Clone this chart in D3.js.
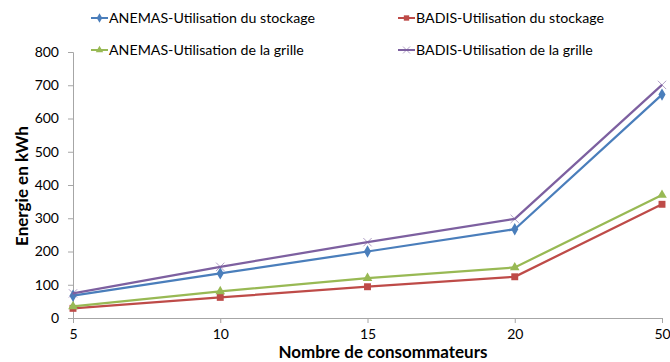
<!DOCTYPE html>
<html>
<head>
<meta charset="utf-8">
<script src="https://cdn.jsdelivr.net/npm/d3@7"></script>
<style>
  html, body { margin: 0; padding: 0; background: #fff; }
  svg { display: block; font-family: Lato, "Open Sans", sans-serif; }
</style>
</head>
<body>
<svg id="chart" width="670" height="362"></svg>
<script>
// Number of consumers (categorical axis)
const categories = ["5", "10", "15", "20", "50"];

// Energy in kWh per scenario
const anemasStockage = [67, 134, 200, 267, 672];
const badisStockage  = [29, 62, 94, 124, 342];
const anemasGrille   = [35, 80, 120, 152, 370];
const badisGrille    = [74, 154, 228, 298, 701];

const yTicks = [0, 100, 200, 300, 400, 500, 600, 700, 800];

const series = [
  { name: "ANEMAS-Utilisation du stockage", values: anemasStockage, color: "#4a7ebb", marker: "diamond" },
  { name: "BADIS-Utilisation du stockage",  values: badisStockage,  color: "#be4b48", marker: "square" },
  { name: "ANEMAS-Utilisation de la grille", values: anemasGrille,  color: "#98b954", marker: "triangle" },
  { name: "BADIS-Utilisation de la grille",  values: badisGrille,   color: "#7d60a0", marker: "cross" }
];

const svg = d3.select("#chart");
const margin = { left: 73, right: 8, top: 52, bottom: 44 };
const W = 670, H = 362;

const x = d3.scalePoint().domain(categories).range([margin.left, W - margin.right]);
const y = d3.scaleLinear().domain([0, 800]).range([H - margin.bottom, margin.top]);

const axisColor = "#a6a6a6";

// Y axis
const yAxis = svg.append("g")
  .attr("transform", `translate(${margin.left},0)`)
  .call(d3.axisLeft(y).tickValues(yTicks).tickSize(5).tickPadding(9));
yAxis.select(".domain").attr("stroke", axisColor);
yAxis.selectAll(".tick line").attr("stroke", axisColor);
yAxis.selectAll(".tick text").attr("font-size", 14).attr("fill", "#000")
  .attr("font-family", "Lato, sans-serif");

// X axis
const xAxis = svg.append("g")
  .attr("transform", `translate(0,${y(0)})`)
  .call(d3.axisBottom(x).tickSize(5).tickPadding(6));
xAxis.select(".domain").attr("stroke", axisColor);
xAxis.selectAll(".tick line").attr("stroke", axisColor);
xAxis.selectAll(".tick text").attr("font-size", 14).attr("fill", "#000")
  .attr("font-family", "Lato, sans-serif");

// Axis titles
svg.append("text")
  .attr("x", 383).attr("y", 358)
  .attr("text-anchor", "middle")
  .attr("font-size", 17).attr("font-weight", "bold")
  .text("Nombre de consommateurs");

svg.append("text")
  .attr("transform", `translate(28,186) rotate(-90)`)
  .attr("text-anchor", "middle")
  .attr("font-size", 17).attr("font-weight", "bold")
  .text("Energie en kWh");

function drawMarker(g, type, color, size) {
  if (type === "diamond") {
    g.append("path").attr("d", d3.symbol(d3.symbolDiamond, size * 1.1)()).attr("fill", color);
  } else if (type === "square") {
    g.append("path").attr("d", d3.symbol(d3.symbolSquare, size * 1.2)()).attr("fill", color);
  } else if (type === "triangle") {
    g.append("path").attr("d", d3.symbol(d3.symbolTriangle, size)()).attr("fill", color);
  } else {
    const s = Math.sqrt(size) / 2 + 1;
    g.append("path").attr("d", `M${-s},${-s}L${s},${s}M${-s},${s}L${s},${-s}`)
      .attr("stroke", color).attr("stroke-width", 1).attr("fill", "none").attr("opacity", 0.6);
  }
}

const line = d3.line().x((d, i) => x(categories[i])).y(d => y(d));

series.forEach(s => {
  svg.append("path")
    .datum(s.values)
    .attr("d", line)
    .attr("fill", "none")
    .attr("stroke", s.color)
    .attr("stroke-width", 2.25);
  s.values.forEach((v, i) => {
    const g = svg.append("g").attr("transform", `translate(${x(categories[i])},${y(v)})`);
    drawMarker(g, s.marker, s.color, 40);
  });
});

// Legend: two columns, two rows
const legendPos = [
  { x: 91, y: 18 }, { x: 398, y: 18 },
  { x: 91, y: 50 }, { x: 398, y: 50 }
];
series.forEach((s, i) => {
  const p = legendPos[i];
  const g = svg.append("g").attr("transform", `translate(${p.x},${p.y})`);
  g.append("line").attr("x1", 0).attr("x2", 17).attr("y1", 0).attr("y2", 0)
    .attr("stroke", s.color).attr("stroke-width", 2);
  const m = g.append("g").attr("transform", "translate(8.5,0)");
  drawMarker(m, s.marker, s.color, 24);
  g.append("text").attr("x", 18).attr("y", 0).attr("dy", "0.35em")
    .attr("font-size", 14.2).attr("fill", "#000")
    .text(s.name);
});
</script>
</body>
</html>
